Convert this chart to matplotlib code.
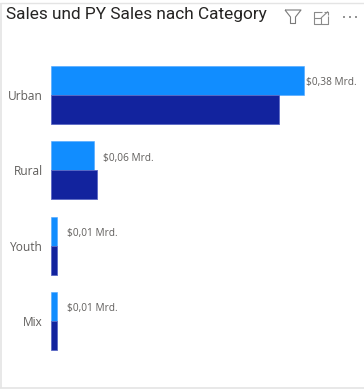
import matplotlib
matplotlib.use("Agg")
import matplotlib.pyplot as plt
from matplotlib.lines import Line2D
from matplotlib.transforms import Affine2D

categories = ["Urban", "Rural", "Youth", "Mix"]
sales = [0.38, 0.0645, 0.0095, 0.0095]
py_sales = [0.343, 0.0685, 0.0095, 0.009]
labels = ["$0,38 Mrd.", "$0,06 Mrd.", "$0,01 Mrd.", "$0,01 Mrd."]

W, H = 364, 390
plt.rcParams['font.family'] = ['Open Sans', 'DejaVu Sans']

fig = plt.figure(figsize=(W / 100, H / 100), dpi=100)

# pixel coords, y going down like in the screenshot
px = Affine2D().scale(1 / W, -1 / H).translate(0, 1) + fig.transFigure


def line(xs, ys, color="#8a8a8a", lw=1.0):
    fig.add_artist(Line2D(xs, ys, transform=px, color=color, lw=lw, solid_capstyle="butt"))


ax = fig.add_axes([51 / W, 1 - 380 / H, 300 / W, 330 / H])
ax.barh([i - 0.1925 for i in range(4)], sales, height=0.385, color="#118DFF", edgecolor="#4da6ff", lw=0.4)
ax.barh([i + 0.1925 for i in range(4)], py_sales, height=0.385, color="#12239E", edgecolor="#5a68c4", lw=0.6)

ax.set_xlim(0, 300 / 665.8)
ax.set_ylim((380 - 95) / 75.3, -45 / 75.3)
ax.set_yticks(range(4))
ax.set_yticklabels(categories, fontsize=8.6, color="#605E5C")
ax.tick_params(axis="y", length=0, pad=6)
ax.tick_params(axis="x", length=0, labelbottom=False)
for s in ax.spines.values():
    s.set_visible(False)

offsets = [2, 9, 10, 10]
for i in range(4):
    ax.annotate(labels[i], (sales[i], i - 0.1925), xytext=(offsets[i] * 0.72, -1.6), textcoords="offset points",
                va="center", ha="left", fontsize=7.3, color="#605E5C")

fig.text(6 / W, 1 - 14 / H, "Sales und PY Sales nach Category", fontsize=12.4, color="#252423",
         family=["Roboto", "DejaVu Sans"], va="center", ha="left")

# card border
line([0.5, 0.5], [3, 388], "#e4e4e4", 1.2)
line([0, 364], [387.5, 387.5], "#e4e4e4", 1.2)
line([0, 364], [3, 3], "#e4e4e4", 1.0)

# filter icon
line([285, 301, 295.5, 295.5, 290.5, 290.5, 285], [10, 10, 17, 23.5, 23.5, 17, 10], "#7a7a7a", 0.8)
# focus icon
line([322, 314, 314, 328, 328], [12, 12, 23.5, 23.5, 16], "#8a8a8a", 0.8)
line([314, 321, 321], [18, 18, 23.5], "#8a8a8a", 0.8)
line([321, 328], [18, 11.5], "#8a8a8a", 0.8)
line([324, 328, 328], [11.5, 11.5, 15], "#8a8a8a", 0.8)
# more icon
for x in [342.5, 348.5, 354.5]:
    line([x, x + 2], [16.5, 16.5], "#8a8a8a", 1.3)

fig.savefig("out.png", dpi=100)
